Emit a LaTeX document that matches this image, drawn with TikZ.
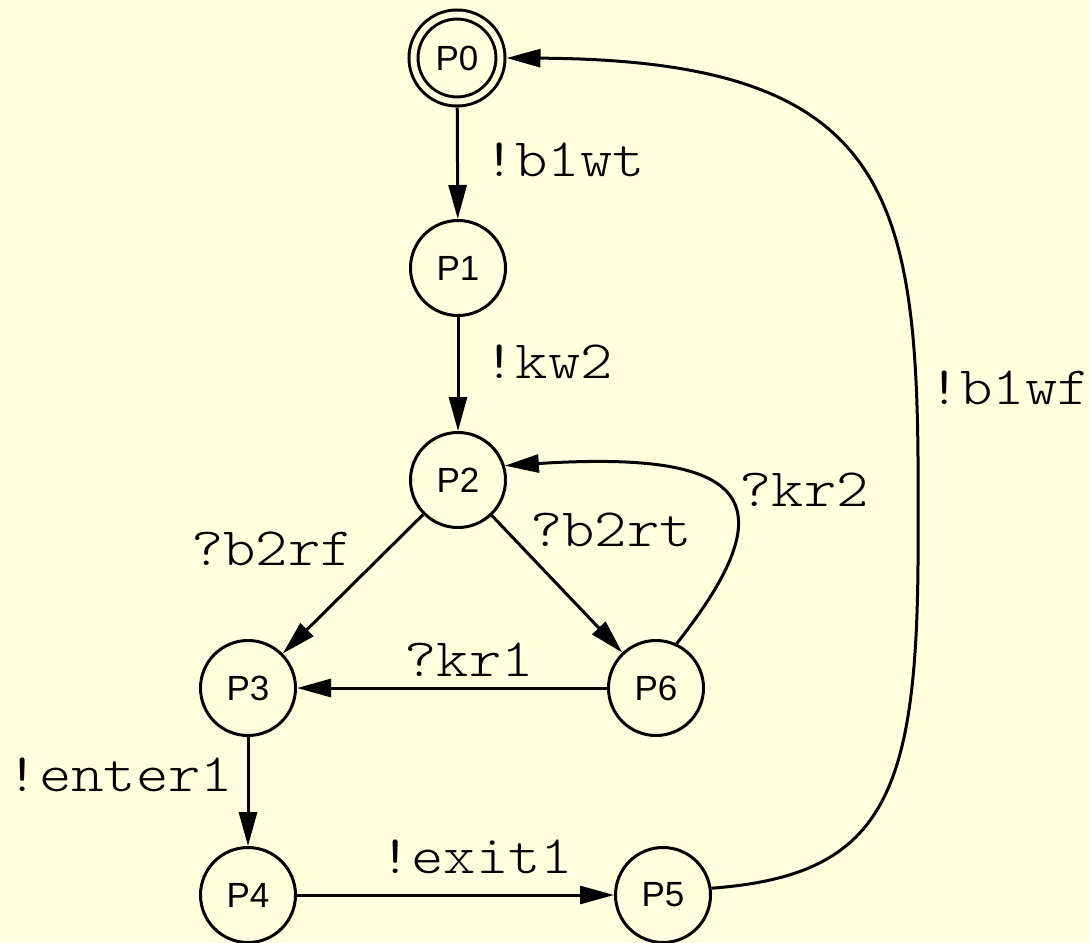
\documentclass[tikz,border=0pt]{standalone}
\usepackage{fontspec}
\setmainfont{Liberation Sans}
\newfontfamily\actfont[FakeStretch=1.14]{lmmonolt10-regular.otf}
\usetikzlibrary{arrows.meta}
\definecolor{bgyellow}{HTML}{FFFFE0}

\begin{document}
\begin{tikzpicture}[x=0.5pt, y=-0.5pt, line width=1.5pt]
        \tikzset{state/.style = {draw, circle, minimum size=47.5pt, inner sep=0pt, font=\fontsize{17.5}{19}\selectfont}}
        \tikzset{accept/.style = {state, double=bgyellow, double distance=3pt, minimum size=43.5pt, outer sep=3pt}}
        \tikzset{act/.style = {font=\actfont\fontsize{27}{30}\selectfont, inner sep=0pt}}
        \tikzset{tr/.style = {-{Triangle[length=17pt,width=9pt]}}}

        \fill[bgyellow] (0,0) rectangle (1089,943);
        \useasboundingbox (0,0) rectangle (1089,943);

        \node[accept] (p0) at (457,58) {P0};
        \node[state] (p1) at (458,268) {P1};
        \node[state] (p2) at (458,480) {P2};
        \node[state] (p3) at (248,688) {P3};
        \node[state] (p6) at (656,688) {P6};
        \node[state] (p4) at (248,895) {P4};
        \node[state] (p5) at (663,895) {P5};

        \draw[tr] (p0) -- (p1);
        \draw[tr] (p1) -- (p2);
        \draw[tr] (p2) -- (p3);
        \draw[tr] (p2) -- (p6);
        \draw[tr] (p6) -- (p3);
        \draw[tr] (p6.65) .. controls (790,500) and (750,450) .. (p2.17);
        \draw[tr] (p3) -- (p4);
        \draw[tr] (p4) -- (p5);
        \draw[tr] (p5.8) .. controls (890,875) and (920,790) .. (918,520)
                         .. controls (920,200) and (900,60) .. (p0.east);

        \node[act] (b1wt) at (564,160) {!b1wt};
        \node[act] (kw2) at (548,362) {!kw2};
        \node[act] (b2rf) at (272,549) {?b2rf};
        \node[act] (b2rt) at (611,530) {?b2rt};
        \node[act] (kr2) at (804,490) {?kr2};
        \node[act] (kr1) at (469,660) {?kr1};
        \node[act] (enter1) at (120,775) {!enter1};
        \node[act] (exit1) at (476,857) {!exit1};
        \node[act] (b1wf) at (1009,388) {!b1wf};

\end{tikzpicture}
\end{document}
